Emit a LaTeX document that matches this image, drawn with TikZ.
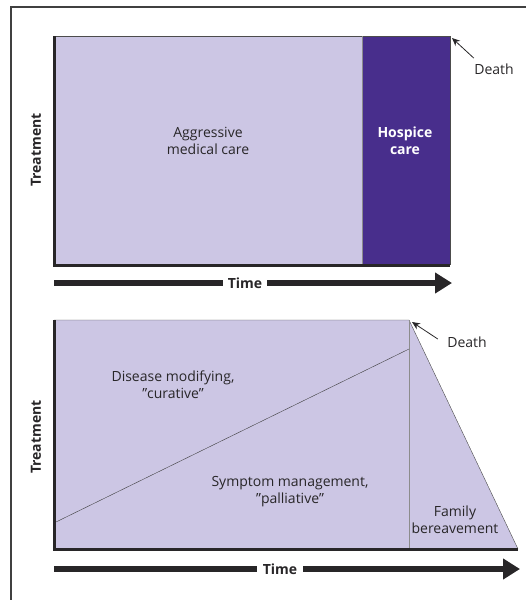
\documentclass[tikz,border=0pt]{standalone}
\usepackage{fontspec}
\setmainfont{Open Sans}
\usetikzlibrary{positioning, arrows.meta, calc}
\definecolor{carelight}{RGB}{204,198,228}
\definecolor{caredark}{RGB}{72,46,140}
\definecolor{inkgray}{RGB}{40,38,40}
\tikzset{
    x=1pt, y=-1pt, % one unit is one pixel of the picture, y runs down
    lbl/.style={ % texts inside the panels
        font=\fontsize{14}{17}\selectfont,
        align=center,
        text=inkgray
    },
    axislbl/.style={
        font=\fontsize{14}{17}\selectfont\bfseries,
        text=inkgray
    },
    axis/.style={line width=3pt, inkgray},
    edgeline/.style={thin, black!70},
    timebar/.style={line width=6pt, inkgray, -{Triangle[length=17pt,width=20pt]}},
    deatharrow/.style={-{Stealth[length=8pt,width=7pt]}, thick, inkgray},
}
\begin{document}
\begin{tikzpicture}
    \useasboundingbox (0,0) rectangle (526,600);
    \draw[black!75, line width=1.3pt] (11,600) -- (11,7) -- (526,7);

    %% upper panel
    \coordinate (tl) at (54,36);
    \coordinate (tm) at (362,36);
    \coordinate (tr) at (450,36);
    \coordinate (bl) at (54,265);
    \coordinate (bm) at (362,265);
    \coordinate (br) at (450,265);
    \fill[carelight] (tl) rectangle (bm);
    \fill[caredark]  (tm) rectangle (br);
    \draw[edgeline] (tl) -- (tr) -- (br);
    \draw[black!45, thin] (tm) -- (bm);
    \draw[axis] (tl) -- (bl) -- (br);

    \node[lbl]                      (aggr)  at (208,141) {Aggressive\\medical care};
    \node[lbl, text=white, font=\fontsize{14}{17}\selectfont\bfseries]
                                    (hosp)  at (405,141) {Hospice\\care};
    \node[axislbl, rotate=90]       (treat1) at (36,150) {Treatment};
    \node[lbl]                      (death1) at (494,69) {Death};
    \draw[deatharrow] ($(death1.north west)+(3,-2)$) -- ($(tr)+(2,2)$);

    \coordinate (t1a) at (54,283);
    \coordinate (t1b) at (452,283);
    \draw[timebar] (t1a) -- (t1b)
        node[axislbl, fill=white, inner xsep=5pt, inner ysep=1pt, pos=0.48] (time1) {Time};

    %% lower panel
    \coordinate (ul) at (54,320);
    \coordinate (ud) at (409,320);
    \coordinate (ll) at (54,549);
    \coordinate (ld) at (409,549);
    \coordinate (lr) at (518,549);
    \fill[carelight] (ul) -- (ud) -- (lr) -- (ll) -- cycle;
    \draw[edgeline] (ul) -- (ud) -- (lr);
    \draw[black!45, thin] (ud) -- (ld);
    \draw[black!75, thin] (56,522) -- (409,349);
    \draw[axis] (ul) -- (ll) -- (lr);

    \node[lbl]                      (cure)  at (173,385) {Disease modifying,\\\textquotedblright curative\textquotedblright};
    \node[lbl]                      (pall)  at (290,492) {Symptom management,\\\textquotedblright palliative\textquotedblright};
    \node[lbl]                      (fam)   at (455,520) {Family\\bereavement};
    \node[axislbl, rotate=90]       (treat2) at (36,437) {Treatment};
    \node[lbl]                      (death2) at (467,342) {Death};
    \draw[deatharrow] ($(death2.west)+(-6,-3)$) -- ($(ud)+(3,2)$);

    \coordinate (t2a) at (54,569);
    \coordinate (t2b) at (520,569);
    \draw[timebar] (t2a) -- (t2b)
        node[axislbl, fill=white, inner xsep=6pt, inner ysep=1pt, pos=0.485] (time2) {Time};
\end{tikzpicture}
\end{document}
